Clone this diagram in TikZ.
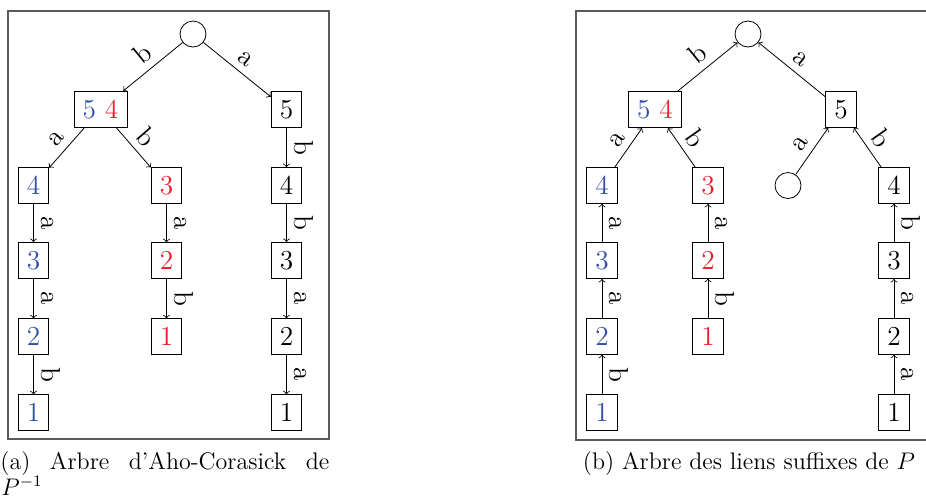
\documentclass[tikz,border=0pt]{standalone}
\usepackage{xcolor}
\usepackage{amsmath, amssymb}
\usepackage{tikz}
\definecolor{motbleu}{RGB}{50, 80, 170}
\definecolor{motrouge}{RGB}{235, 30, 45}
\definecolor{cadregris}{RGB}{90, 90, 90}

\tikzset{
  etat/.style={draw, rectangle, inner sep=4.3pt, font=\fontsize{13.7}{16}\selectfont},
  vide/.style={draw, circle, inner sep=0pt, minimum size=13pt},
  lettre/.style={sloped, above, inner sep=3.5pt, font=\fontsize{13.7}{16}\selectfont},
  cadre/.style={draw=cadregris, line width=0.6pt},
  legende/.style={inner sep=0pt, font=\fontsize{12}{14.5}\selectfont},
}

\begin{document}
\begin{tikzpicture}[x=0.5pt, y=-0.5pt]
    \useasboundingbox (0,0) rectangle (926,500);

    %% cadres
    \draw[cadre] (8,11) rectangle (329,439);
    \draw[cadre] (576,11) rectangle (937,440);

    %% (a) arbre d'Aho-Corasick
    \node[vide] (lr) at (193,34) {};
    \node[etat] (lb) at (100.5,109.5) {\textcolor{motbleu}{5} \textcolor{motrouge}{4}};
    \node[etat] (la) at (286.5,109.5) {5};
    \node[etat, text=motbleu] (lba) at (33.5,185.5) {4};
    \node[etat, text=motrouge] (lbb) at (166.5,185.5) {3};
    \node[etat] (lab) at (286.5,185.5) {4};
    \node[etat, text=motbleu] (lbaa) at (33.5,260.5) {3};
    \node[etat, text=motrouge] (lbba) at (166.5,260.5) {2};
    \node[etat] (labb) at (286.5,260.5) {3};
    \node[etat, text=motbleu] (lbaaa) at (33.5,336.5) {2};
    \node[etat, text=motrouge] (lbbab) at (166.5,336.5) {1};
    \node[etat] (labba) at (286.5,336.5) {2};
    \node[etat, text=motbleu] (lbaaab) at (33.5,412.5) {1};
    \node[etat] (labbaa) at (286.5,412.5) {1};

    \draw[->] (lr) -- node[lettre] {b} (lb);
    \draw[->] (lr) -- node[lettre] {a} (la);
    \draw[->] (lb) -- node[lettre] {a} (lba);
    \draw[->] (lb) -- node[lettre] {b} (lbb);
    \draw[->] (la) -- node[lettre] {b} (lab);
    \draw[->] (lba) -- node[lettre] {a} (lbaa);
    \draw[->] (lbaa) -- node[lettre] {a} (lbaaa);
    \draw[->] (lbaaa) -- node[lettre] {b} (lbaaab);
    \draw[->] (lbb) -- node[lettre] {a} (lbba);
    \draw[->] (lbba) -- node[lettre] {b} (lbbab);
    \draw[->] (lab) -- node[lettre] {b} (labb);
    \draw[->] (labb) -- node[lettre] {a} (labba);
    \draw[->] (labba) -- node[lettre] {a} (labbaa);

    %% (b) arbre des liens suffixes
    \node[vide] (rr) at (748,34) {};
    \node[etat] (rb) at (655,109.5) {\textcolor{motbleu}{5} \textcolor{motrouge}{4}};
    \node[etat] (ra) at (841,109.5) {5};
    \node[etat, text=motbleu] (rba) at (602,185.5) {4};
    \node[etat, text=motrouge] (rbb) at (708,185.5) {3};
    \node[vide] (raa) at (788,185.5) {};
    \node[etat] (rab) at (894,185.5) {4};
    \node[etat, text=motbleu] (rbaa) at (602,260.5) {3};
    \node[etat, text=motrouge] (rbba) at (708,260.5) {2};
    \node[etat] (rabb) at (894,260.5) {3};
    \node[etat, text=motbleu] (rbaaa) at (602,336.5) {2};
    \node[etat, text=motrouge] (rbbab) at (708,336.5) {1};
    \node[etat] (rabba) at (894,336.5) {2};
    \node[etat, text=motbleu] (rbaaab) at (602,412.5) {1};
    \node[etat] (rabbaa) at (894,412.5) {1};

    \draw[<-] (rr) -- node[lettre] {b} (rb);
    \draw[<-] (rr) -- node[lettre] {a} (ra);
    \draw[<-] (rb) -- node[lettre] {a} (rba);
    \draw[<-] (rb) -- node[lettre] {b} (rbb);
    \draw[<-] (ra) -- node[lettre] {a} (raa);
    \draw[<-] (ra) -- node[lettre] {b} (rab);
    \draw[<-] (rba) -- node[lettre] {a} (rbaa);
    \draw[<-] (rbaa) -- node[lettre] {a} (rbaaa);
    \draw[<-] (rbaaa) -- node[lettre] {b} (rbaaab);
    \draw[<-] (rbb) -- node[lettre] {a} (rbba);
    \draw[<-] (rbba) -- node[lettre] {b} (rbbab);
    \draw[<-] (rab) -- node[lettre] {b} (rabb);
    \draw[<-] (rabb) -- node[lettre] {a} (rabba);
    \draw[<-] (rabba) -- node[lettre] {a} (rabbaa);

    %% legendes
    \node[legende, anchor=base west] (capa) at (0,469)
      {\makebox[164.5pt][s]{(a) Arbre d'Aho-Corasick de}};
    \node[legende, anchor=base west] (capa2) at (1,495) {$P^{-1}$};
    \node[legende, anchor=base] (capb) at (749,469)
      {(b) Arbre des liens suffixes de $P$};
  \end{tikzpicture}
\end{document}
